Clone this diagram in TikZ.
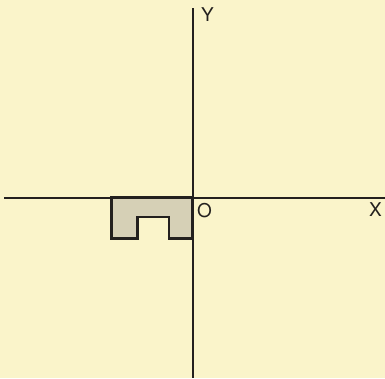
\documentclass[tikz,border=0pt]{standalone}
\usepackage{fontspec}
\setmainfont{TeX Gyre Heros}
\definecolor{bg}{RGB}{250,244,202}
\definecolor{ink}{RGB}{35,32,30}
\definecolor{shade}{RGB}{214,208,182}
\begin{document}
\begin{tikzpicture}[x=1pt,y=-1pt,
  axis/.style={draw=ink,line width=2pt},
  lbl/.style={text=ink,font=\fontsize{19}{19}\selectfont,inner sep=0pt},
  region/.style={draw=ink,line width=2.4pt,fill=shade,line join=miter}]
\fill[bg] (0,0) rectangle (385,378);
\useasboundingbox (0,0) rectangle (385,378);
\coordinate (xl) at (4,197.5);
\coordinate (xr) at (385,197.5);
\coordinate (yt) at (192.5,8);
\coordinate (yb) at (192.5,378);
\draw[region] (111.5,197.5) -- (192.5,197.5) -- (192.5,238.5) -- (169,238.5) -- (169,217) -- (137.5,217) -- (137.5,238.5) -- (111.5,238.5) -- cycle;
\draw[axis] (xl) -- (xr);
\draw[axis] (yt) -- (yb);
\node[lbl] (O) at (204.5,210.5) {O};
\node[lbl] (X) at (375.5,209.5) {X};
\node[lbl] (Y) at (207.5,14.5) {Y};
\end{tikzpicture}
\end{document}
